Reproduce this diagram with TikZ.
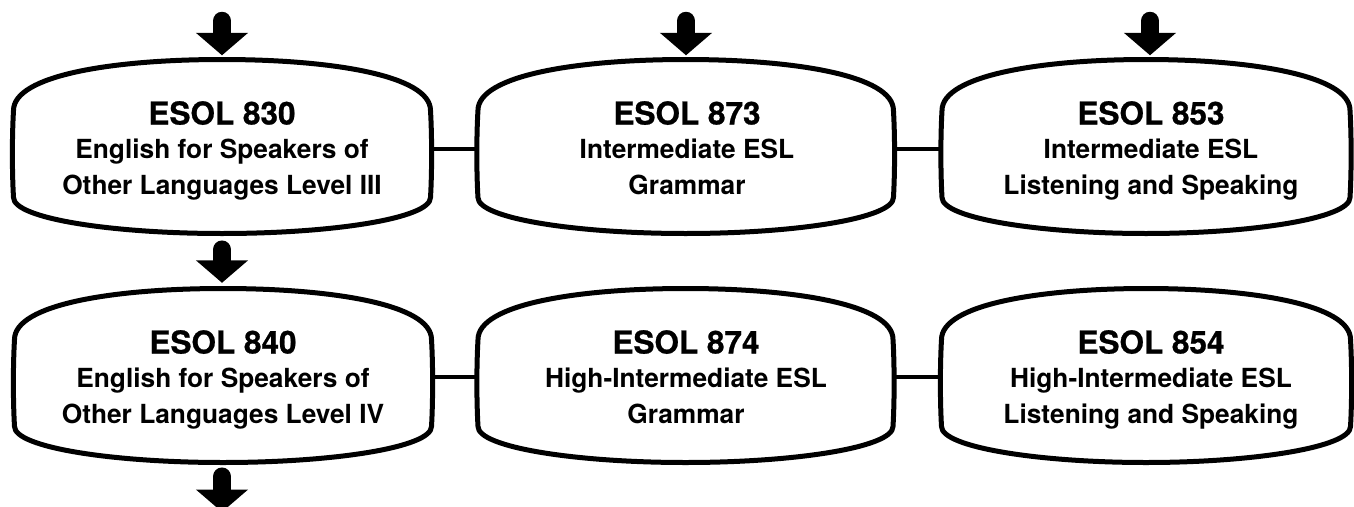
\documentclass[tikz,border=0pt]{standalone}
\usepackage{fontspec}
\setmainfont{TeX Gyre Heros}
\newfontfamily\titlefam{TeX Gyre Heros}[BoldFeatures={FakeBold=0.8}]
\usetikzlibrary{arrows.meta,calc}
\tikzset{
  boxline/.style={line width=5pt, line join=round},
  conn/.style={line width=4.5pt},
  bigarrow/.style={line width=18.5pt, line cap=round, -{Triangle[width=51pt,length=22.5pt]}},
  coursetext/.style={align=center, inner sep=0pt, anchor=center,
    font=\fontsize{26.3}{35.5}\selectfont\bfseries},
  boxframe/.style={draw=none, inner sep=0pt, minimum height=174pt},
}
\newcommand\ctext[3]{{\titlefam\bfseries\fontsize{31.5}{35.5}\selectfont\rule{0pt}{24pt}#1}\\[-1.5pt] #2\\ #3\rule[-8pt]{0pt}{8pt}}
\newcommand\outline[2]{%
  \begin{scope}[shift={(#1.center)}]
  \draw[boxline] (0,-87) .. controls (-#2+100,-87) and (-#2+1.5,-71) .. (-#2+1.5,-36)
    .. controls (-#2,-10) and (-#2,25) .. (-#2+1.5,51)
    .. controls (-#2+1.5,72) and (-#2+100,87) .. (0,87)
    .. controls (#2-100,87) and (#2-1.5,72) .. (#2-1.5,51)
    .. controls (#2,25) and (#2,-10) .. (#2-1.5,-36)
    .. controls (#2-1.5,-71) and (#2-100,-87) .. (0,-87) -- cycle;
  \end{scope}}
\begin{document}
\begin{tikzpicture}[x=1pt,y=-1pt]
\useasboundingbox (0,0) rectangle (1354,506);
% box frames
\node[boxframe, minimum width=420pt] (b1) at (222,146.5) {};
\node[boxframe, minimum width=418.5pt] (b2) at (685.7,146.5) {};
\node[boxframe, minimum width=411pt] (b3) at (1146,146.5) {};
\node[boxframe, minimum width=420pt] (b4) at (223,375.5) {};
\node[boxframe, minimum width=418pt] (b5) at (685.5,375.5) {};
\node[boxframe, minimum width=412pt] (b6) at (1146,375.5) {};
\outline{b1}{210}
\outline{b2}{209.25}
\outline{b3}{205.5}
\outline{b4}{210}
\outline{b5}{209}
\outline{b6}{206}
% texts
\node[coursetext] (t1) at (222,151.25) {\ctext{ESOL 830}{English for Speakers of}{Other Languages Level III}};
\node[coursetext] (t2) at (687,151.25) {\ctext{ESOL 873}{Intermediate ESL}{Grammar}};
\node[coursetext] (t3) at (1151,151.25) {\ctext{ESOL 853}{Intermediate ESL}{Listening and Speaking}};
\node[coursetext] (t4) at (223,380.25) {\ctext{ESOL 840}{English for Speakers of}{Other Languages Level IV}};
\node[coursetext] (t5) at (686,380.25) {\ctext{ESOL 874}{High-Intermediate ESL}{Grammar}};
\node[coursetext] (t6) at (1151,380.25) {\ctext{ESOL 854}{High-Intermediate ESL}{Listening and Speaking}};
% connectors
\draw[conn] ([yshift=-2.5pt]b1.east) -- ([yshift=-2.5pt]b2.west);
\draw[conn] ([yshift=-2.5pt]b2.east) -- ([yshift=-2.5pt]b3.west);
\draw[conn] ([yshift=-1.5pt]b4.east) -- ([yshift=-1.5pt]b5.west);
\draw[conn] ([yshift=-1.5pt]b5.east) -- ([yshift=-1.5pt]b6.west);
% arrows
\coordinate (a1) at (222,21);
\coordinate (a2) at (686,21);
\coordinate (a3) at (1150,21);
\coordinate (a4) at (222,512);
\draw[bigarrow] (a1) -- ([yshift=4pt]b1.north);
\draw[bigarrow] (a2) -- ([xshift=0.3pt,yshift=4pt]b2.north);
\draw[bigarrow] (a3) -- ([xshift=4pt,yshift=4pt]b3.north);
\draw[bigarrow] ([yshift=-16pt]b1.south) -- ([xshift=-1pt,yshift=5.5pt]b4.north);
\draw[bigarrow] ([xshift=-1pt,yshift=-14pt]b4.south) -- (a4);
\end{tikzpicture}
\end{document}
